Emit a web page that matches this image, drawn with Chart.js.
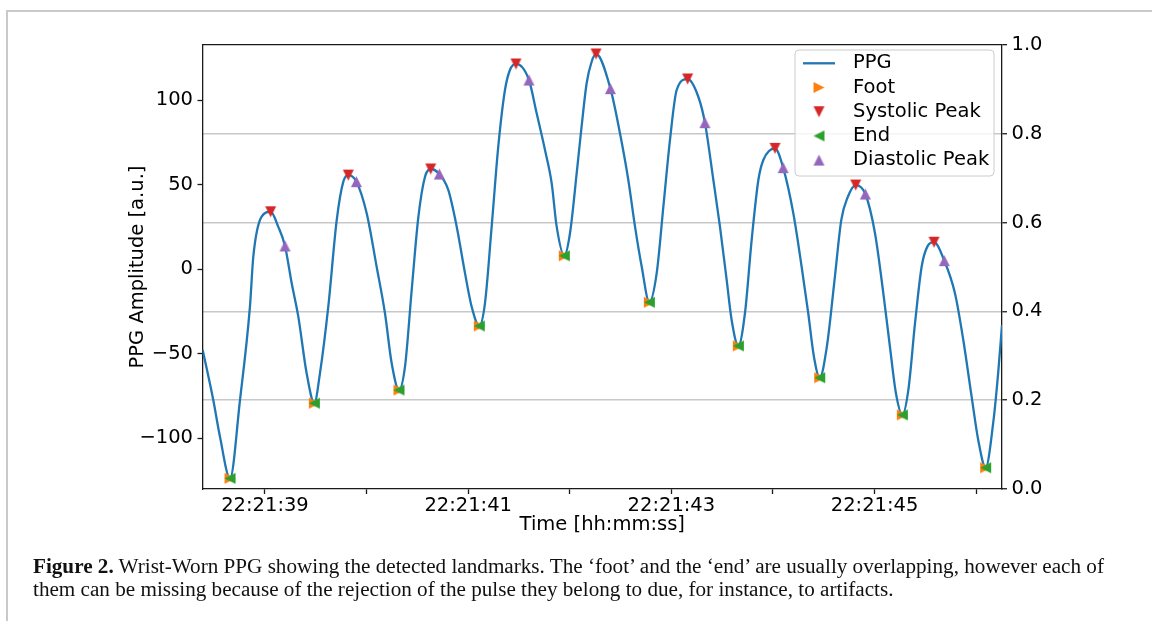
<!DOCTYPE html>
<html><head><meta charset="utf-8">
<script src="https://cdn.jsdelivr.net/npm/chart.js@4.4.0/dist/chart.umd.min.js"></script>
<style>
html,body{margin:0;padding:0;background:#fff;width:1152px;height:621px;overflow:hidden;}
#frame{position:absolute;left:6px;top:10px;width:2000px;height:2000px;border-top:2px solid #c9c9c9;border-left:2px solid #c9c9c9;}
#wrap{position:absolute;left:0;top:0;width:1152px;height:621px;}
#cap{position:absolute;left:33px;top:555px;font-family:"Liberation Serif",serif;font-size:20px;line-height:23px;color:#111;white-space:nowrap;transform-origin:0 0;}
</style></head><body>
<div id="frame"></div>
<div id="wrap"><canvas id="c" width="1152" height="621"></canvas></div>
<div id="cap"><span id="l1"><b>Figure 2.</b> Wrist-Worn PPG showing the detected landmarks. The ‘foot’ and the ‘end’ are usually overlapping, however each of</span><br><span id="l2">them can be missing because of the rejection of the pulse they belong to due, for instance, to artifacts.</span></div>
<script>
// ---- data (time in seconds after 22:21:00) ----
const ppgTime = [38.387,38.491,38.557,38.656,38.754,38.852,38.885,38.967,39.056,39.13,39.197,39.263,39.328,39.41,39.486,
  39.541,39.623,39.706,39.771,39.82,39.90,40.001,40.099,40.181,40.247,40.319,
  40.378,40.444,40.51,40.575,40.631,40.716,40.804,40.887,40.969,41.034,41.109,
  41.165,41.231,41.296,41.362,41.411,41.47,41.598,41.674,41.756,41.822,41.871,41.946,
  42.002,42.068,42.116,42.166,42.215,42.258,42.40,42.494,42.576,42.642,42.708,42.783,
  42.855,42.921,42.986,43.052,43.16,43.265,43.33,43.413,43.478,43.544,43.593,43.659,
  43.724,43.79,43.856,43.905,44.02,44.10,44.20,44.282,44.347,44.403,44.46,
  44.53,44.606,44.672,44.737,44.814,44.909,45.004,45.086,45.151,45.21,45.273,
  45.332,45.398,45.463,45.519,45.585,45.686,45.791,45.873,45.955,46.02,46.093,
  46.167,46.216,46.254];
const ppgValue = [-47.7,-77.3,-99,-123.6,-77.3,-22.1,7.5,31.1,34.0,25.2,13.8,-8.3,-28,-61.5,-79.2,
  -61.5,-22.1,29.1,51.8,55.7,51.8,33.1,1.5,-26,-55.6,-71.4,
  -57.6,-12.2,31.1,54.7,59.3,56.3,46.9,25.2,-2.4,-22.1,-33.5,
  -20.1,25.2,72.5,106,117.8,121.4,111.9,92.2,70.5,50.8,25.2,8.0,
  21.3,56.8,84.3,110,122.7,127.3,106.8,80.4,52.8,25.2,1.5,-19.5,
  -2.4,37,76.4,106,112.5,102,86.7,52.8,25.2,-6.3,-30,-45.3,
  -26,17.3,52.8,64.6,71.5,60.1,33.1,1.5,-26,-51.7,-64.1,
  -45.8,-6.3,29.1,42.9,49.8,44.5,21.3,-14.2,-45.8,-73.3,-86.1,
  -71.4,-31.9,1.5,13.4,16.0,5.1,-14.2,-41.8,-75.3,-100.9,-117.3,
  -91,-61.5,-33];
const footTime  = [38.656,39.486,40.319,41.109,41.946,42.783,43.659,44.46,45.273,46.093];
const footValue = [-123.6,-79.2,-71.4,-33.5,8.0,-19.5,-45.3,-64.1,-86.1,-117.3];
const endTime   = [38.656,39.486,40.319,41.109,41.946,42.783,43.659,44.46,45.273,46.093];
const endValue  = [-123.6,-79.2,-71.4,-33.5,8.0,-19.5,-45.3,-64.1,-86.1,-117.3];
const sysTime   = [39.056,39.82,40.631,41.47,42.258,43.16,44.02,44.814,45.585];
const sysValue  = [34.0,55.7,59.3,121.4,127.3,112.5,71.5,49.8,16.0];
const diaTime   = [39.197,39.90,40.716,41.598,42.40,43.33,44.10,44.909,45.686];
const diaValue  = [13.8,51.8,56.3,111.9,106.8,86.7,60.1,44.5,5.1];

const xTickValues  = [39,40,41,42,43,44,45,46];
const xTickLabels  = ['22:21:39','','22:21:41','','22:21:43','','22:21:45',''];
const yTickValues  = [-100,-50,0,50,100];
const yTickLabels  = ['\u2212100','\u221250','0','50','100'];
const y2TickValues = [0,0.2,0.4,0.6,0.8,1.0];
const y2TickLabels = ['0.0','0.2','0.4','0.6','0.8','1.0'];

const zip = (a,b) => a.map((x,i)=>({x:x, y:b[i]}));
const FONT = {family:'"DejaVu Sans"', size:19.5};
const AX = '#1a1a1a';

// matplotlib-like triangle marker (width = height = size)
function triMarker(color, dir, size){
  const n=Math.ceil(size)+4, c=document.createElement('canvas'); c.width=n; c.height=n;
  const g=c.getContext('2d'), h=size/2, m=n/2;
  const pts={up:[[0,-1],[-1,1],[1,1]], down:[[0,1],[-1,-1],[1,-1]], right:[[1,0],[-1,-1],[-1,1]], left:[[-1,0],[1,-1],[1,1]]}[dir];
  g.beginPath(); pts.forEach(p=>g.lineTo(m+p[0]*h, m+p[1]*h)); g.closePath();
  g.fillStyle=color; g.fill();
  return c;
}
const MS = 11;

const legendBox = {
  id:'legendBox',
  afterDatasetsDraw(chart){
    const ctx=chart.ctx, a=chart.chartArea;
    const w=199, h=126, x=a.right-8-w, y=a.top+5;
    ctx.save();
    ctx.beginPath(); ctx.roundRect(x,y,w,h,4);
    ctx.fillStyle='rgba(255,255,255,0.8)'; ctx.fill();
    ctx.strokeStyle='#cccccc'; ctx.lineWidth=1; ctx.stroke();
    chart.data.datasets.forEach((ds,i)=>{
      const cy=y+13.3+i*24.2, sx=x+24;
      if(ds.showLine){
        ctx.strokeStyle=ds.borderColor; ctx.lineWidth=ds.borderWidth;
        ctx.beginPath(); ctx.moveTo(sx-16,cy); ctx.lineTo(sx+16,cy); ctx.stroke();
      } else {
        const im=ds.pointStyle; ctx.drawImage(im, sx-im.width/2, cy-im.height/2);
      }
      ctx.fillStyle='#000'; ctx.font='19.5px "DejaVu Sans"'; ctx.textBaseline='middle'; ctx.textAlign='left';
      ctx.fillText(ds.label, x+58, cy);
    });
    ctx.restore();
  }
};

function marker(label, t, v, color, dir, order){
  return {label, data:zip(t,v), showLine:false, pointStyle:triMarker(color,dir,MS),
    pointRadius:6, pointBackgroundColor:color, pointBorderWidth:0, borderColor:color,
    backgroundColor:color, yAxisID:'y', order};
}

new Chart(document.getElementById('c'), {
  type:'scatter',
  data:{datasets:[
    {label:'PPG', data:zip(ppgTime,ppgValue), showLine:true, borderColor:'#1f77b4', borderWidth:2.3,
     pointRadius:0, cubicInterpolationMode:'monotone', yAxisID:'y', order:5},
    marker('Foot', footTime, footValue, '#ff7f0e', 'right', 4),
    marker('Systolic Peak', sysTime, sysValue, '#d62728', 'down', 3),
    marker('End', endTime, endValue, '#2ca02c', 'left', 2),
    marker('Diastolic Peak', diaTime, diaValue, '#9467bd', 'up', 1)
  ]},
  options:{
    responsive:false, devicePixelRatio:1, animation:false, events:[],
    layout:{padding:{top:45,left:0,right:0,bottom:0}},
    plugins:{legend:{display:false}, tooltip:{enabled:false}},
    scales:{
      x:{type:'linear', position:'bottom', min:38.385, max:46.254,
        afterBuildTicks:s=>{s.ticks=xTickValues.map(v=>({value:v}));},
        afterFit:s=>{s.height=132;},
        ticks:{callback:(v,i)=>xTickLabels[i], font:FONT, color:'#000', padding:0, maxRotation:0, autoSkip:false},
        grid:{drawOnChartArea:false, drawTicks:true, tickLength:5, tickColor:AX, tickWidth:1.3},
        border:{display:true, color:AX, width:1.3},
        title:{display:true, text:'Time [hh:mm:ss]', font:FONT, color:'#000', padding:{top:0,bottom:84}}
      },
      y:{type:'linear', position:'left', min:-129.9, max:132.6,
        afterBuildTicks:s=>{s.ticks=yTickValues.map(v=>({value:v}));},
        afterFit:s=>{s.width=202.5;},
        ticks:{callback:(v,i)=>yTickLabels[i], font:FONT, color:'#000', padding:4.5, autoSkip:false},
        grid:{drawOnChartArea:false, drawTicks:true, tickLength:5, tickColor:AX, tickWidth:1.3},
        border:{display:true, color:AX, width:1.3},
        title:{display:true, text:'PPG Amplitude [a.u.]', font:FONT, color:'#000', padding:{top:126,bottom:0}}
      },
      y2:{type:'linear', position:'right', min:0, max:1,
        afterBuildTicks:s=>{s.ticks=y2TickValues.map(v=>({value:v}));},
        afterFit:s=>{s.width=150;},
        ticks:{callback:(v,i)=>y2TickLabels[i], font:FONT, color:'#000', padding:4.5, autoSkip:false},
        grid:{drawOnChartArea:true, drawTicks:true, tickLength:5, tickColor:AX, tickWidth:1.3,
          color:c=>{const v=c.tick?c.tick.value:null; return v===1?AX:(v===0?'rgba(0,0,0,0)':'#c8c8c8');},
          lineWidth:c=>{const v=c.tick?c.tick.value:null; return v===1?1.3:1.5;}},
        border:{display:true, color:AX, width:1.3}
      }
    }
  },
  plugins:[legendBox]
});

// caption: fit the full first line to the reference text width
const cap=document.getElementById('cap'), l1=document.getElementById('l1');
const sc=1071/l1.getBoundingClientRect().width;
cap.style.transform='scaleX('+sc+')';
</script>
</body></html>
